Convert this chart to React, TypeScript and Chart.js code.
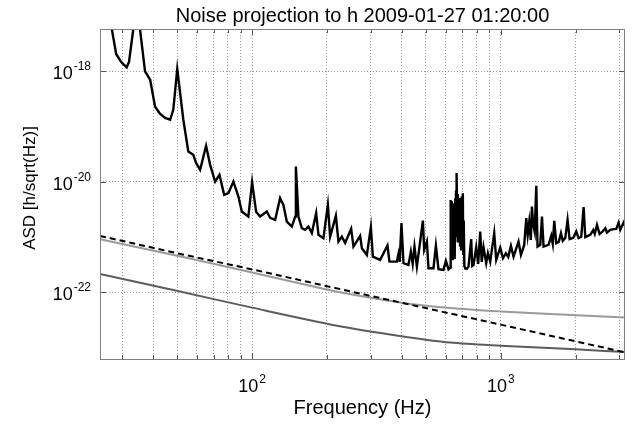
import { useEffect, useRef } from 'react';
import { Chart, registerables } from 'chart.js';

Chart.register(...registerables);

const FONT = '"Liberation Sans", Arial, Helvetica, sans-serif';

const titleText = 'Noise projection to h 2009-01-27 01:20:00';
const xLabelText = 'Frequency (Hz)';
const yLabelText = 'ASD [h/sqrt(Hz)]';

const xMinHz = 24.45;
const xMaxHz = 3161;
const yMinAsd = 6.21e-24;
const yMaxAsd = 5.84e-18;

const xGridHz = [30, 40, 50, 60, 70, 80, 90, 100, 200, 300, 400, 500, 600, 700, 800, 900, 1000, 2000, 3000];
const xTickHz = [100, 1000];
const xTickExp = ['2', '3'];
const yTickAsd = [1e-18, 1e-20, 1e-22];
const yTickExp = ['-18', '-20', '-22'];

const mainFreqHz = [
  25.6, 28.4, 29.7, 31.3, 32.0, 33.3, 34.1, 35.4, 37.1, 38.9,
  40.7, 42.6, 44.7, 46.8, 48.2, 50, 52.9, 55.4, 58.0, 59.5,
  61.8, 65.3, 67.8, 71.0, 73.9, 77.2, 80.3, 84.1, 88.1, 90.9,
  96.6, 100, 103.8, 107.7, 114.6, 118.2, 123.8, 129.6, 133.6, 137.9,
  144.5, 149, 150, 153.6, 158.5, 163.4, 168.5, 173.9, 181, 184.9,
  193.6, 201.7, 206, 217.2, 222.5, 229.6, 236.7, 250.3, 255.7, 272,
  276.4, 289.5, 300.4, 306, 327.4, 350.3, 356.9, 382.2, 387.9, 392.2,
  398.8, 406.3, 425.6, 435.1, 442.5, 449.9, 460, 486.3, 492.2, 504.7,
  512.2, 536.5, 548.6, 562, 588.6, 601.8, 616.5,
  626, 628, 630, 632, 634, 636, 638, 641, 643, 646,
  648, 651, 653, 656, 658, 661, 663, 666, 668, 671,
  673, 676, 678, 683, 686, 690, 693, 697, 700, 704,
  707, 710, 714, 720, 729.7, 742, 760.8, 767.9, 777.2, 796.9,
  811.7, 827, 838.5, 852.7, 874.2, 888.1, 907.2, 941.5, 959.1, 995.3,
  1021, 1049, 1072, 1099, 1126, 1179, 1206, 1243, 1267, 1284,
  1302, 1321, 1335, 1351, 1370, 1390, 1406, 1442, 1465, 1487,
  1557, 1597, 1619, 1642, 1672, 1712, 1747, 1776, 1818, 1857,
  1892, 1958, 2013, 2056, 2108, 2154, 2188, 2292, 2356, 2389,
  2439, 2498, 2561, 2634, 2675, 2758, 2844, 2916, 2979, 3026,
  3120, 3160,
];

const mainAsd = [
  3.0e-17, 2.06e-18, 1.49e-18, 1.18e-18, 1.49e-18, 5.91e-18, 1.98e-17, 5.91e-18, 9.96e-19, 7.04e-19,
  2.31e-19, 1.71e-19, 1.43e-19, 1.33e-19, 2.01e-19, 1.10e-18, 1.33e-19, 3.54e-20, 3.08e-20, 2.21e-20,
  1.65e-20, 4.49e-20, 2.03e-20, 1.01e-20, 1.34e-20, 5.81e-21, 6.24e-21, 1.01e-20, 5.42e-21, 2.90e-21,
  2.35e-21, 9.88e-21, 2.86e-21, 2.35e-21, 2.90e-21, 2.23e-21, 2.05e-21, 5.07e-21, 3.83e-21, 1.91e-21,
  1.55e-21, 2.35e-21, 1.89e-20, 2.35e-21, 1.45e-21, 1.35e-21, 1.55e-21, 1.18e-21, 2.71e-21, 1.10e-21,
  9.55e-22, 3.83e-21, 1.02e-21, 2.42e-21, 8.29e-22, 1.02e-21, 7.85e-22, 1.41e-21, 6.73e-22, 1.05e-21,
  6.30e-22, 4.76e-22, 1.51e-21, 4.43e-22, 3.86e-22, 7.02e-22, 3.60e-22, 3.60e-22, 4.96e-22, 3.55e-22,
  1.79e-21, 3.37e-22, 3.13e-22, 5.46e-22, 3.27e-22, 6.73e-22, 2.92e-22, 1.99e-21, 5.86e-22, 8.29e-22,
  2.73e-22, 2.73e-22, 7.02e-22, 2.62e-22, 2.55e-22, 3.71e-22, 2.62e-22,
  2.8e-22, 4.7e-21, 3.0e-22, 4.0e-21, 5.0e-22, 4.5e-21, 4.0e-22, 3.8e-21, 6.0e-22, 4.1e-21,
  5.0e-22, 3.5e-21, 4.0e-22, 5.0e-21, 1.0e-21, 7.0e-21, 1.2e-21, 1.44e-20, 2.0e-21, 6.0e-21,
  8.0e-22, 4.5e-21, 1.0e-21, 5.1e-21, 7.0e-22, 4.0e-21, 6.0e-22, 5.5e-21, 8.0e-22, 6.2e-21,
  5.0e-22, 2.0e-21, 3.0e-22, 2.7e-22, 2.65e-22, 2.92e-22, 9.16e-22, 3.01e-22, 3.13e-22, 6.56e-22,
  3.27e-22, 1.26e-21, 3.55e-22, 6.56e-22, 3.37e-22, 5.11e-22, 3.60e-22, 1.18e-21, 3.86e-22, 6.45e-22,
  4.15e-22, 5.11e-22, 4.38e-22, 6.93e-22, 4.43e-22, 8.29e-22, 4.76e-22, 7.22e-22, 2.20e-21, 1.10e-21,
  1.88e-21, 8.89e-22, 3.57e-21, 1.66e-21, 1.24e-21, 8.46e-21, 6.73e-22, 7.22e-22, 2.35e-21, 6.73e-22,
  7.22e-22, 1.05e-21, 7.53e-22, 1.97e-21, 7.75e-22, 8.18e-22, 1.18e-21, 8.53e-22, 9.67e-22, 2.05e-21,
  9.16e-22, 9.67e-22, 1.26e-21, 9.55e-22, 1.01e-21, 3.48e-21, 9.96e-22, 1.10e-21, 1.35e-21, 1.14e-21,
  1.66e-21, 1.14e-21, 1.24e-21, 1.45e-21, 1.21e-21, 1.35e-21, 1.39e-21, 1.41e-21, 1.83e-21, 1.35e-21,
  1.83e-21, 1.60e-21,
];

const dashedFreqHz = [24.45, 50, 100, 300, 1000, 3161];
const dashedAsd = [1.05e-21, 5.1e-22, 2.6e-22, 8.6e-23, 2.6e-23, 8.2e-24];

const upperGrayFreqHz = [24.45, 50, 100, 156, 220, 393, 626, 1000, 1580, 3161];
const upperGrayAsd = [9.16e-22, 4.6e-22, 2.29e-22, 1.45e-22, 1.02e-22, 6.56e-23, 5.21e-23, 4.51e-23, 4.06e-23, 3.51e-23];

const lowerGrayFreqHz = [24.45, 48.2, 100, 222.5, 393, 626, 1000, 2000, 3161];
const lowerGrayAsd = [2.15e-22, 1.10e-22, 5.28e-23, 2.46e-23, 1.62e-23, 1.23e-23, 1.08e-23, 9.3e-24, 8.3e-24];

const toPoints = (xs: number[], ys: number[]) => xs.map((x, i) => ({ x, y: ys[i] }));

function drawPow(ctx: CanvasRenderingContext2D, x: number, baseY: number, exp: string, align: 'center' | 'right', baseSize: number, expSize: number) {
  ctx.font = `${baseSize}px ${FONT}`;
  const wBase = ctx.measureText('10').width;
  ctx.font = `${expSize}px ${FONT}`;
  const wExp = ctx.measureText(exp).width;
  const total = wBase + wExp + 1;
  const start = align === 'center' ? x - total / 2 : x - total;
  ctx.textAlign = 'left';
  ctx.textBaseline = 'alphabetic';
  ctx.font = `${baseSize}px ${FONT}`;
  ctx.fillText('10', start, baseY);
  ctx.font = `${expSize}px ${FONT}`;
  ctx.fillText(exp, start + wBase + 1, baseY - baseSize * 0.5);
}

const decorPlugin = {
  id: 'matlabDecor',
  afterDraw(chart: any) {
    const ctx: CanvasRenderingContext2D = chart.ctx;
    const { left, right, top, bottom } = chart.chartArea;
    const xs = chart.scales.x;
    const ys = chart.scales.y;
    ctx.save();
    ctx.strokeStyle = '#555555';
    ctx.lineWidth = 1;
    ctx.setLineDash([]);
    ctx.beginPath();
    xGridHz.forEach((v) => {
      const px = Math.round(xs.getPixelForValue(v)) + 0.5;
      const len = xTickHz.includes(v) ? 6 : 4;
      ctx.moveTo(px, bottom);
      ctx.lineTo(px, bottom - len);
      ctx.moveTo(px, top);
      ctx.lineTo(px, top + len);
    });
    yTickAsd.forEach((v) => {
      const py = Math.round(ys.getPixelForValue(v)) + 0.5;
      ctx.moveTo(left, py);
      ctx.lineTo(left + 6, py);
      ctx.moveTo(right, py);
      ctx.lineTo(right - 6, py);
    });
    ctx.stroke();
    ctx.strokeStyle = '#808080';
    ctx.strokeRect(Math.round(left) + 0.5, Math.round(top) + 0.5, Math.round(right - left) - 1, Math.round(bottom - top));
    ctx.fillStyle = '#000000';
    const cx = (left + right) / 2;
    ctx.font = `20px ${FONT}`;
    ctx.textAlign = 'center';
    ctx.textBaseline = 'alphabetic';
    ctx.fillText(titleText, cx, 22);
    ctx.fillText(xLabelText, cx, 414);
    xTickHz.forEach((v, i) => {
      drawPow(ctx, xs.getPixelForValue(v), 392, xTickExp[i], 'center', 18, 12);
    });
    yTickAsd.forEach((v, i) => {
      drawPow(ctx, 91, ys.getPixelForValue(v) + 8, yTickExp[i], 'right', 18, 12);
    });
    ctx.save();
    ctx.translate(35, 188);
    ctx.rotate(-Math.PI / 2);
    ctx.font = `17px ${FONT}`;
    ctx.textAlign = 'center';
    ctx.fillText(yLabelText, 0, 0);
    ctx.restore();
    ctx.restore();
  },
};

export default function App() {
  const ref = useRef<HTMLCanvasElement>(null);
  useEffect(() => {
    const canvas = ref.current;
    if (!canvas) return;
    const chart = new Chart(canvas, {
      type: 'line',
      data: {
        datasets: [
          {
            label: 'h',
            data: toPoints(mainFreqHz, mainAsd),
            borderColor: '#000000',
            borderWidth: 2.4,
            pointRadius: 0,
            tension: 0,
            clip: 0,
          },
          {
            label: 'dashed',
            data: toPoints(dashedFreqHz, dashedAsd),
            borderColor: '#000000',
            borderWidth: 2,
            borderDash: [6, 4],
            pointRadius: 0,
            tension: 0,
            clip: 0,
          },
          {
            label: 'upper',
            data: toPoints(upperGrayFreqHz, upperGrayAsd),
            borderColor: '#9a9a9a',
            borderWidth: 2,
            pointRadius: 0,
            tension: 0.3,
            clip: 0,
          },
          {
            label: 'lower',
            data: toPoints(lowerGrayFreqHz, lowerGrayAsd),
            borderColor: '#5c5c5c',
            borderWidth: 2,
            pointRadius: 0,
            tension: 0.3,
            clip: 0,
          },
        ],
      } as any,
      options: {
        animation: false,
        responsive: false,
        devicePixelRatio: 1,
        layout: { padding: { top: 29, right: 19, left: 0, bottom: 0 } },
        plugins: { legend: { display: false }, title: { display: false }, tooltip: { enabled: false } },
        events: [],
        scales: {
          x: {
            type: 'logarithmic',
            min: xMinHz,
            max: xMaxHz,
            afterBuildTicks: (scale: any) => {
              scale.ticks = xGridHz.map((v) => ({ value: v }));
            },
            afterFit: (scale: any) => {
              scale.height = 65;
            },
            ticks: { display: false },
            grid: { color: '#9c9c9c', lineWidth: 1, drawTicks: false },
            border: { display: false, dash: [1, 2] },
          },
          y: {
            type: 'logarithmic',
            min: yMinAsd,
            max: yMaxAsd,
            afterBuildTicks: (scale: any) => {
              scale.ticks = yTickAsd.map((v) => ({ value: v }));
            },
            afterFit: (scale: any) => {
              scale.width = 100;
            },
            ticks: { display: false },
            grid: { color: '#9c9c9c', lineWidth: 1, drawTicks: false },
            border: { display: false, dash: [1, 2] },
          },
        },
      } as any,
      plugins: [decorPlugin],
    });
    return () => chart.destroy();
  }, []);
  return (
    <div style={{ position: 'absolute', left: 0, top: 0, width: 644, height: 424, background: '#ffffff' }}>
      <canvas ref={ref} width={644} height={424} style={{ display: 'block', width: 644, height: 424 }} />
    </div>
  );
}
